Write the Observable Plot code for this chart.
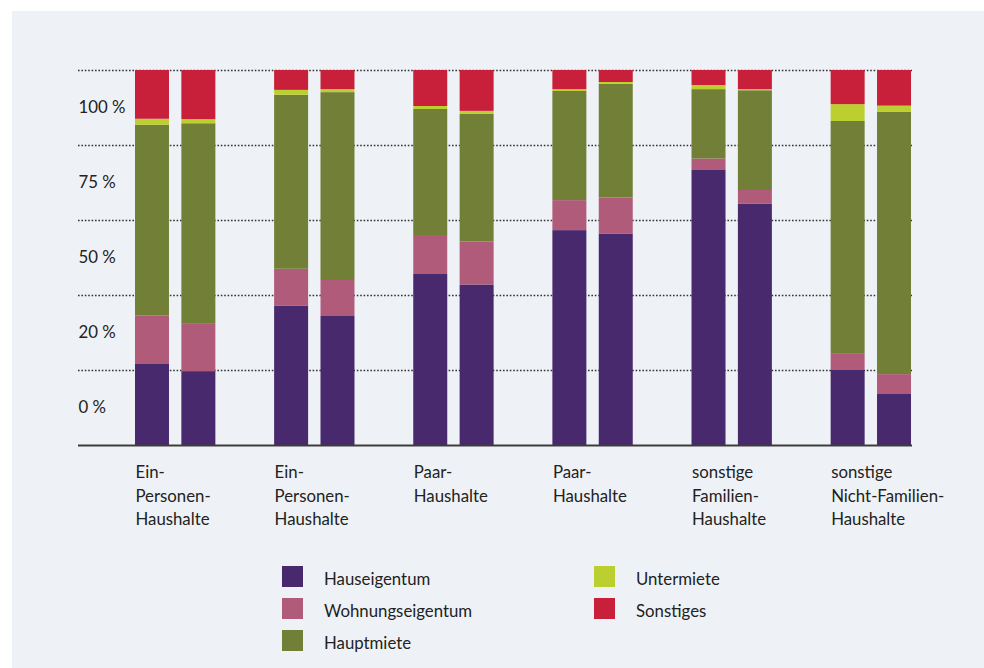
<!DOCTYPE html>
<html>
<head>
<meta charset="utf-8">
<script src="https://cdn.jsdelivr.net/npm/d3@7"></script>
<script src="https://cdn.jsdelivr.net/npm/@observablehq/plot@0.6"></script>
<style>
  html, body { margin: 0; padding: 0; background: #ffffff; }
  body { width: 984px; height: 668px; position: relative; overflow: hidden; font-family: Lato, "Noto Sans", sans-serif; color: #222; }
  #panel { position: absolute; left: 12px; top: 11px; width: 972px; height: 657px; background: #eef2f6; }
  #chart { position: absolute; left: 0; top: 0; }
  #legend { position: absolute; left: 0; top: 0; width: 984px; height: 668px; pointer-events: none; }
  .item { position: absolute; display: flex; align-items: center; font-size: 16.8px; height: 21px; }
  .sw { width: 21px; height: 21px; margin-right: 21px; flex: none; }
</style>
</head>
<body>
<div id="panel"></div>
<div id="chart"></div>
<div id="legend"></div>
<script>
// ---- data ----
const groups = ["g1", "g2", "g3", "g4", "g5", "g6"];
const groupLabels = [
  "Ein-\nPersonen-\nHaushalte",
  "Ein-\nPersonen-\nHaushalte",
  "Paar-\nHaushalte",
  "Paar-\nHaushalte",
  "sonstige\nFamilien-\nHaushalte",
  "sonstige\nNicht-Familien-\nHaushalte"
];
const subBars = ["a", "b"];
const series = ["Hauseigentum", "Wohnungseigentum", "Hauptmiete", "Untermiete", "Sonstiges"];
const colors = ["#48296e", "#b15b7b", "#727f37", "#bccf31", "#c8203a"];
// values per bar, order: g1a, g1b, g2a, g2b, ... g6b (percent)
const hauseigentum     = [21.6, 19.7, 37.1, 34.4, 45.6, 42.8, 57.3, 56.3, 73.5, 64.3, 20.0, 13.6];
const wohnungseigentum = [12.9, 12.8,  9.9,  9.6, 10.4, 11.5,  8.0,  9.7,  2.9,  3.7,  4.5,  5.3];
const hauptmiete       = [50.9, 53.3, 46.4, 50.1, 33.6, 34.0, 29.1, 30.3, 18.5, 26.6, 61.9, 70.0];
const untermiete       = [ 1.6,  1.1,  1.3,  0.8,  0.8,  0.8,  0.5,  0.5,  1.1,  0.3,  4.5,  1.6];
const sonstiges        = [13.0, 13.1,  5.3,  5.1,  9.6, 10.9,  5.1,  3.2,  4.0,  5.1,  9.1,  9.5];
const gridValues = [20, 40, 60, 80, 100];
const yTickPositions = [90, 70, 50, 30, 10];
const yTickLabels = ["100 %", "75 %", "50 %", "20 %", "0 %"];

// ---- build tables ----
const seriesValues = [hauseigentum, wohnungseigentum, hauptmiete, untermiete, sonstiges];
const slots = [];
groups.forEach((g, gi) => {
  subBars.forEach(s => slots.push(`${g}-${s}`));
  if (gi < groups.length - 1) slots.push(`${g}-gap`);
});
const barIds = [];
groups.forEach(g => subBars.forEach(s => barIds.push(`${g}-${s}`)));
const rows = [];
barIds.forEach((id, bi) => {
  series.forEach((s, si) => rows.push({bar: id, series: s, value: seriesValues[si][bi]}));
});
const groupTicks = groups.map(g => `${g}-a`);
const groupLabelMap = new Map(groupTicks.map((t, i) => [t, groupLabels[i]]));
const yLabelMap = new Map(yTickPositions.map((p, i) => [p, yTickLabels[i]]));

const font = "Lato, 'Noto Sans', sans-serif";
const chart = Plot.plot({
  width: 984,
  height: 540,
  marginTop: 70,
  marginBottom: 95,
  marginLeft: 78,
  marginRight: 72,
  style: {background: "transparent", fontFamily: font, color: "#222"},
  x: {type: "band", domain: slots, paddingInner: 0.267, paddingOuter: 0.625, align: 0.983, round: false, axis: null},
  y: {domain: [0, 100], axis: null},
  color: {domain: series, range: colors},
  marks: [
    Plot.ruleY(gridValues, {stroke: "#333", strokeWidth: 1.6, strokeDasharray: "1.6,1.8"}),
    Plot.barY(rows, {x: "bar", y: "value", fill: "series", order: series}),
    Plot.ruleY([0], {stroke: "#3c3c3c", strokeWidth: 2}),
    Plot.axisY({
      anchor: "left", ticks: yTickPositions, tickFormat: d => yLabelMap.get(d),
      tickSize: 0, tickPadding: 0, textAnchor: "start", fontSize: 16.8, fill: "#222", label: null
    }),
    Plot.axisX({
      anchor: "bottom", ticks: groupTicks, tickFormat: d => groupLabelMap.get(d),
      tickSize: 0, tickPadding: 16, textAnchor: "start", dx: -17, lineHeight: 1.4,
      fontSize: 16.8, fill: "#222", label: null
    })
  ]
});
document.getElementById("chart").appendChild(chart);

// ---- legend ----
const legendPos = [
  {left: 282, top: 566}, {left: 282, top: 598}, {left: 282, top: 630},
  {left: 594, top: 566}, {left: 594, top: 598}
];
const legend = d3.select("#legend");
series.forEach((s, i) => {
  const it = legend.append("div").attr("class", "item")
    .style("left", legendPos[i].left + "px").style("top", (legendPos[i].top + 2) + "px");
  it.append("div").attr("class", "sw").style("background", colors[i]).style("margin-top", "-4px");
  it.append("span").text(s);
});
</script>
</body>
</html>
